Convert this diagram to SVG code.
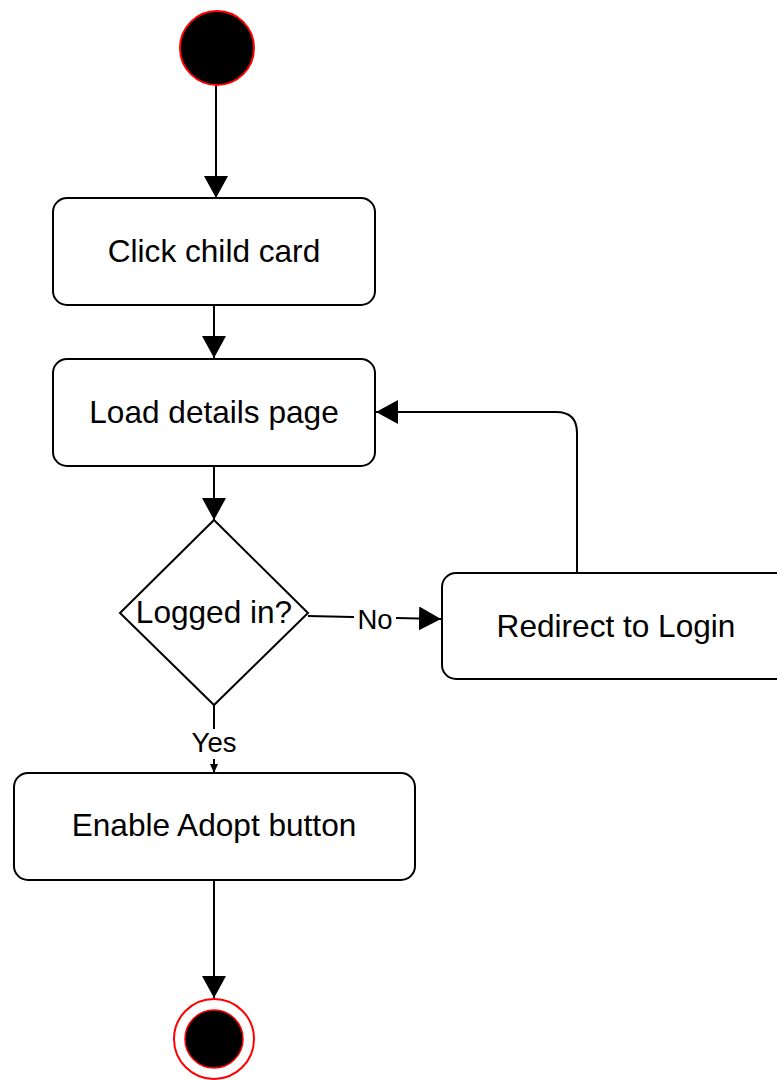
<svg xmlns="http://www.w3.org/2000/svg" width="777" height="1080" viewBox="0 0 777 1080">
<style>
.box{fill:#fff;stroke:#000;stroke-width:2}
.lbl{font-family:"Liberation Sans",Arial,sans-serif;font-size:31.6px;fill:#000;text-anchor:middle}
.elbl{font-family:"Liberation Sans",Arial,sans-serif;font-size:27.5px;fill:#000;text-anchor:middle}
.edge{fill:none;stroke:#000;stroke-width:2}
</style>
<defs>
<marker id="arr" markerWidth="24" markerHeight="24" viewBox="0 0 24 24" refX="22" refY="12" orient="auto" markerUnits="userSpaceOnUse">
<path d="M0,0 L22,12 L0,24 Z" fill="#000"/>
</marker>
<marker id="arrs" markerWidth="10" markerHeight="10" viewBox="0 0 10 10" refX="9" refY="5" orient="auto" markerUnits="userSpaceOnUse">
<path d="M0,1 L9,5 L0,9 Z" fill="#000"/>
</marker>
</defs>
<rect width="777" height="1080" fill="#fff"/>
<g id="connectors">
<path class="edge" d="M216,86 V198" marker-end="url(#arr)"/>
<path class="edge" d="M214,305 V358" marker-end="url(#arr)"/>
<path class="edge" d="M214,466 V520" marker-end="url(#arr)"/>
<path class="edge" d="M308,616 L441,619" marker-end="url(#arr)"/>
<rect x="354" y="603" width="42" height="30" fill="#fff"/>
<text class="elbl" x="375" y="629">No</text>
<path class="edge" d="M214,705 V773" marker-end="url(#arrs)"/>
<rect x="187" y="729" width="54" height="30" fill="#fff"/>
<text class="elbl" x="214" y="752">Yes</text>
<path class="edge" d="M577,573 V433 Q577,412 556,412 H376" marker-end="url(#arr)"/>
<path class="edge" d="M214,880 V998" marker-end="url(#arr)"/>
</g>
<g id="start">
<circle cx="217" cy="48" r="37" fill="#000" stroke="#ff0000" stroke-width="2"/>
</g>
<g id="click">
<rect class="box" x="53" y="198" width="322" height="107" rx="14"/>
<text class="lbl" x="214" y="262">Click child card</text>
</g>
<g id="load">
<rect class="box" x="53" y="359" width="322" height="107" rx="14"/>
<text class="lbl" x="214" y="423">Load details page</text>
</g>
<g id="decision">
<polygon points="214,520 308,613 214,705 120,613" fill="#fff" stroke="#000" stroke-width="2"/>
<text class="lbl" x="214" y="623">Logged in?</text>
</g>
<g id="redirect">
<rect class="box" x="442" y="573" width="380" height="106" rx="14"/>
<text class="lbl" x="616" y="637">Redirect to Login</text>
</g>
<g id="enable">
<rect class="box" x="14" y="773" width="401" height="107" rx="14"/>
<text class="lbl" x="214" y="836">Enable Adopt button</text>
</g>
<g id="end">
<circle cx="214" cy="1039" r="40" fill="#fff" stroke="#ff0000" stroke-width="2"/>
<circle cx="214" cy="1039" r="29" fill="#000" stroke="#ff0000" stroke-width="1.5"/>
</g>
</svg>
